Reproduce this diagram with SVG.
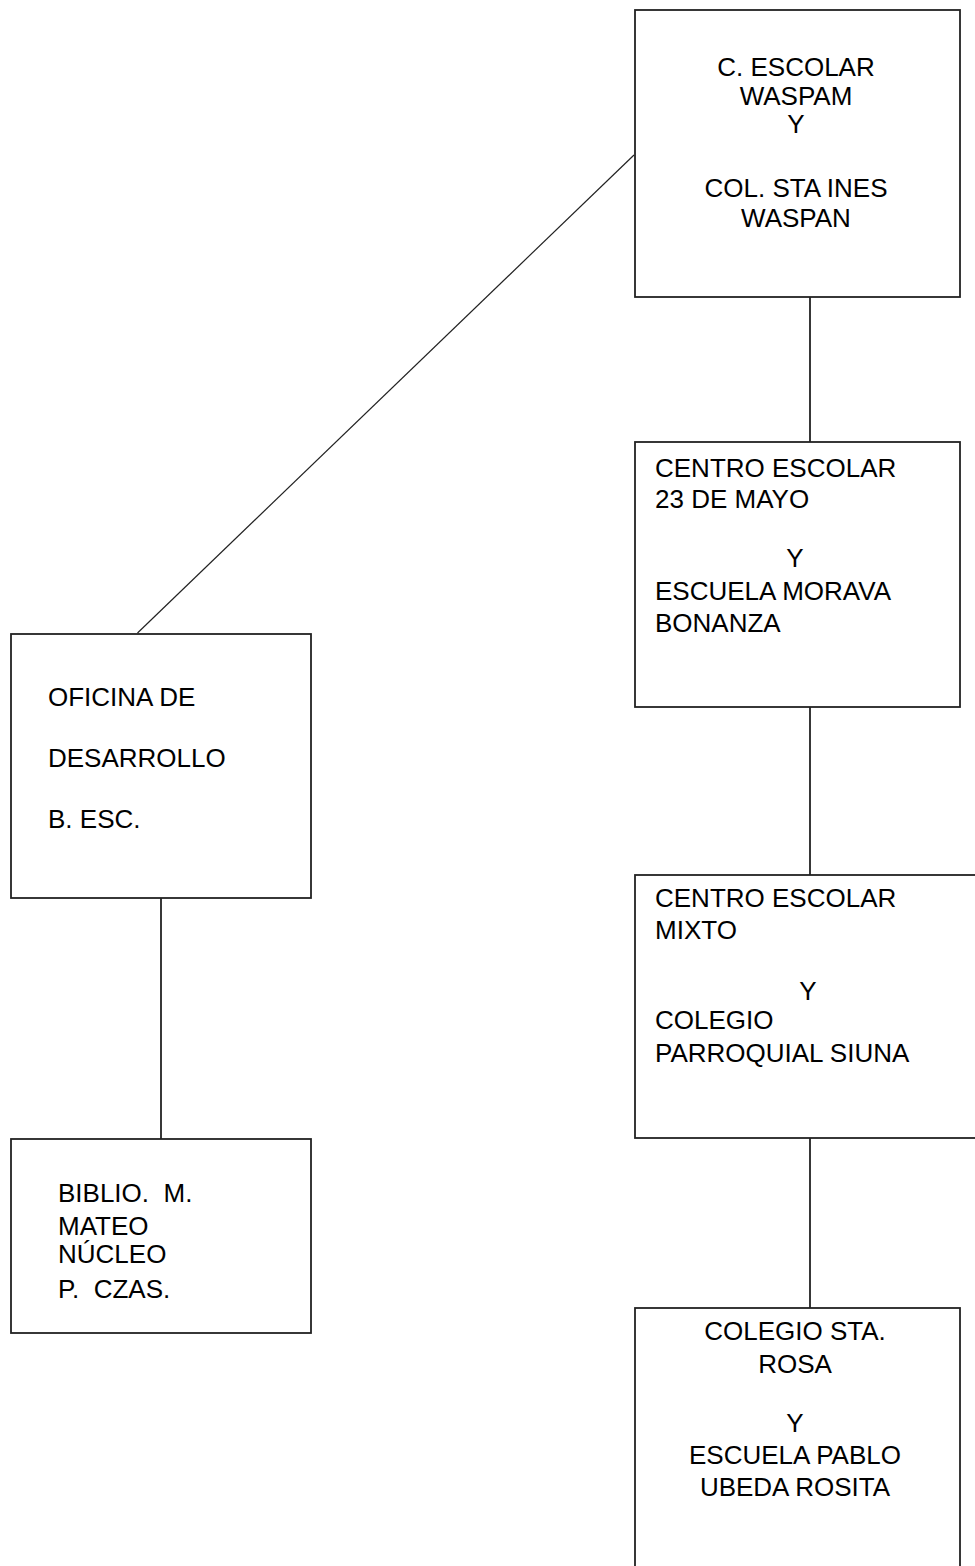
<svg xmlns="http://www.w3.org/2000/svg" width="975" height="1566" viewBox="0 0 975 1566">
<style>
.box{fill:#fff;stroke:#222;stroke-width:1.8}
.t{font-family:"Liberation Sans",Arial,sans-serif;font-size:26px;fill:#000}
.c{text-anchor:middle}
.ln{stroke:#222;stroke-width:1.8;fill:none}
.thin{stroke:#222;stroke-width:1.2;fill:none}
</style>
<rect width="975" height="1566" fill="#fff"/>
<g id="connectors">
<line class="thin" x1="137.5" y1="633" x2="634" y2="155"/>
<line class="ln" x1="810" y1="297" x2="810" y2="442"/>
<line class="ln" x1="810" y1="707" x2="810" y2="875"/>
<line class="ln" x1="810" y1="1138" x2="810" y2="1308"/>
<line class="ln" x1="161" y1="898" x2="161" y2="1139"/>
</g>
<g id="n1">
<rect class="box" x="635" y="10" width="325" height="287"/>
<text class="t c" x="796" y="76">C. ESCOLAR</text>
<text class="t c" x="796" y="105">WASPAM</text>
<text class="t c" x="796" y="133" font-size="21">Y</text>
<text class="t c" x="796" y="197">COL. STA INES</text>
<text class="t c" x="796" y="227">WASPAN</text>
</g>
<g id="n2">
<rect class="box" x="635" y="442" width="325" height="265"/>
<text class="t" x="655" y="477">CENTRO ESCOLAR</text>
<text class="t" x="655" y="508">23 DE MAYO</text>
<text class="t c" x="795" y="567">Y</text>
<text class="t" x="655" y="600">ESCUELA MORAVA</text>
<text class="t" x="655" y="632">BONANZA</text>
</g>
<g id="n3">
<rect class="box" x="635" y="875" width="360" height="263"/>
<text class="t" x="655" y="907">CENTRO ESCOLAR</text>
<text class="t" x="655" y="939">MIXTO</text>
<text class="t c" x="808" y="1000">Y</text>
<text class="t" x="655" y="1029">COLEGIO</text>
<text class="t" x="655" y="1062">PARROQUIAL SIUNA</text>
</g>
<g id="n4">
<rect class="box" x="635" y="1308" width="325" height="280"/>
<text class="t c" x="795" y="1340">COLEGIO STA.</text>
<text class="t c" x="795" y="1373">ROSA</text>
<text class="t c" x="795" y="1432">Y</text>
<text class="t c" x="795" y="1464">ESCUELA PABLO</text>
<text class="t c" x="795" y="1496">UBEDA ROSITA</text>
</g>
<g id="n5">
<rect class="box" x="11" y="634" width="300" height="264"/>
<text class="t" x="48" y="706">OFICINA DE</text>
<text class="t" x="48" y="767">DESARROLLO</text>
<text class="t" x="48" y="828">B. ESC.</text>
</g>
<g id="n6">
<rect class="box" x="11" y="1139" width="300" height="194"/>
<text class="t" x="58" y="1202" xml:space="preserve">BIBLIO.  M.</text>
<text class="t" x="58" y="1235">MATEO</text>
<text class="t" x="58" y="1263">NÚCLEO</text>
<text class="t" x="58" y="1298" xml:space="preserve">P.  CZAS.</text>
</g>
</svg>
